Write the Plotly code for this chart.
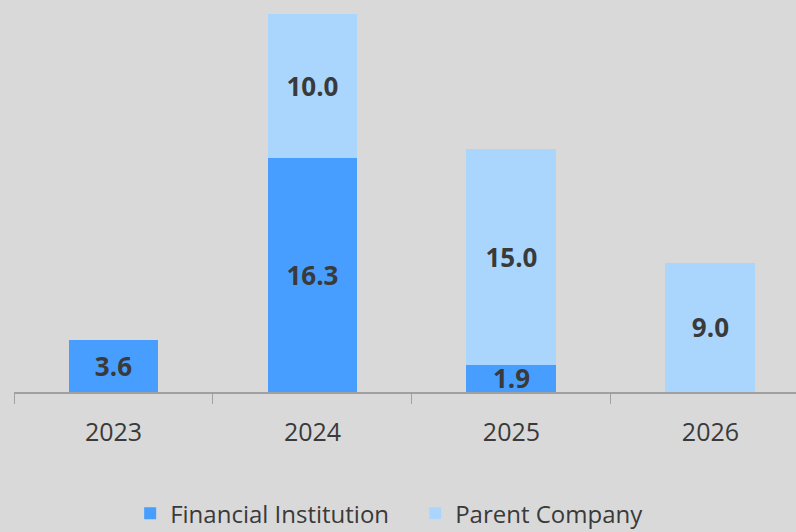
import plotly.graph_objects as go

years = ["2023", "2024", "2025", "2026"]
financial_institution = [3.6, 16.3, 1.9, None]
parent_company = [None, 10.0, 15.0, 9.0]

dark_blue = "#479EFF"
light_blue = "#AAD6FE"
text_color = "#3A3A3A"

label_font = dict(family="Open Sans", size=26, color=text_color, weight="bold")

fig = go.Figure()
fig.add_trace(go.Bar(
    x=years, y=financial_institution, name="Financial Institution",
    marker=dict(color=dark_blue, line=dict(width=0)),
    text=[f"{v:.1f}" if v is not None else "" for v in financial_institution],
    textposition="inside", insidetextanchor="middle", constraintext="none",
    textfont=label_font, cliponaxis=False,
))
fig.add_trace(go.Bar(
    x=years, y=parent_company, name="Parent Company",
    marker=dict(color=light_blue, line=dict(width=0)),
    text=[f"{v:.1f}" if v is not None else "" for v in parent_company],
    textposition="inside", insidetextanchor="middle", constraintext="none",
    textfont=label_font, cliponaxis=False,
))

fig.update_layout(
    width=796, height=532,
    barmode="stack", bargap=0.548,
    paper_bgcolor="#D9D9D9", plot_bgcolor="#D9D9D9",
    margin=dict(l=14, r=0, t=0, b=140),
    font=dict(family="Open Sans", color=text_color),
    legend=dict(
        orientation="h", x=0.513, xanchor="center",
        yref="container", y=0.077, yanchor="top",
        font=dict(size=24, color=text_color), traceorder="normal",
        entrywidth=240,
    ),
    xaxis=dict(
        range=[-0.5, 3.43], showline=True, linecolor="#A0A0A0", linewidth=1.5,
        ticks="outside", tickson="boundaries", ticklen=10, tickcolor="#A0A0A0",
        tickfont=dict(size=25, color=text_color), ticklabelstandoff=17,
        showgrid=False,
    ),
    yaxis=dict(range=[0, 27.28], visible=False, showgrid=False),
)

fig.write_html("out.html", config={"displayModeBar": False},
               post_script="document.body.style.margin='0';")
